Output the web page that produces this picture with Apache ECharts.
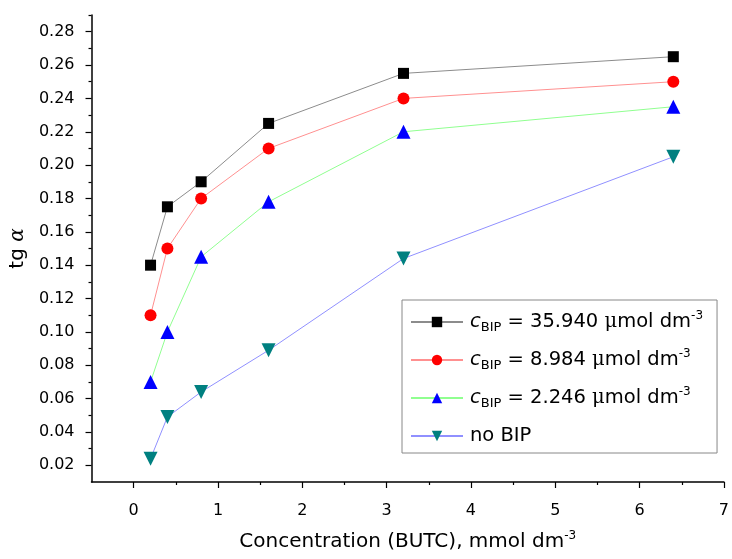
<!DOCTYPE html>
<html>
<head>
<meta charset="utf-8">
<script src="https://cdn.jsdelivr.net/npm/echarts@6/dist/echarts.min.js"></script>
<style>html,body{margin:0;padding:0;background:#fff}#c{width:732px;height:559px}</style>
</head>
<body>
<div id="c"></div>
<script>
// ---- data ----
const concentrations = [0.2, 0.4, 0.8, 1.6, 3.2, 6.4];
const bip35940 = [0.140, 0.175, 0.190, 0.225, 0.255, 0.265];
const bip8984  = [0.110, 0.150, 0.180, 0.210, 0.240, 0.250];
const bip2246  = [0.070, 0.100, 0.145, 0.178, 0.220, 0.235];
const noBip    = [0.024, 0.049, 0.064, 0.089, 0.144, 0.205];
const seriesNames = ['c35.940', 'c8.984', 'c2.246', 'noBIP'];
const legendValues = ['35.940', '8.984', '2.246', null];
const xMajorTicks = [0, 1, 2, 3, 4, 5, 6, 7];
const xMinorTicks = [0.5, 1.5, 2.5, 3.5, 4.5, 5.5, 6.5];
const yMajorTicks = [0.02, 0.04, 0.06, 0.08, 0.10, 0.12, 0.14, 0.16, 0.18, 0.20, 0.22, 0.24, 0.26, 0.28];
const yMinorTicks = [0.03, 0.05, 0.07, 0.09, 0.11, 0.13, 0.15, 0.17, 0.19, 0.21, 0.23, 0.25, 0.27, 0.29];

const pairs = ys => concentrations.map((x, i) => [x, ys[i]]);
const FONT = 'DejaVu Sans';
const downTri = 'path://M0,0 L12,0 L6,10.4 Z';

const chart = echarts.init(document.getElementById('c'), null, {renderer: 'canvas'});
const baseX = {min: -0.5, max: 7, gridIndex: 0, position: 'bottom', splitLine: {show: false}};
const baseY = {min: 0.01, max: 0.29, gridIndex: 0, position: 'left', splitLine: {show: false}};

function mkSeries(name, data, lineColor, symColor, symbol, size) {
  return {
    name, type: 'line', data, symbol, symbolSize: size,
    lineStyle: {color: lineColor, width: 1},
    itemStyle: {color: symColor, borderWidth: 0},
    emphasis: {disabled: true}, animation: false, z: 3
  };
}

chart.setOption({
  animation: false,
  grid: {left: 87, right: 8, top: 15, bottom: 76, containLabel: false},
  xAxis: [
    Object.assign({}, baseX, {
      type: 'value',
      axisLine: {show: true, onZero: false, lineStyle: {color: '#000', width: 1.5}},
      axisTick: {show: true, inside: false, length: 6, lineStyle: {color: '#000', width: 1.2}, customValues: xMajorTicks},
      axisLabel: {customValues: xMajorTicks, color: '#000', fontFamily: FONT, fontSize: 16, margin: 21},
      name: 'Concentration (BUTC), mmol dm{sup|-3}',
      nameLocation: 'middle', nameGap: 48,
      nameTextStyle: {color: '#000', fontFamily: FONT, fontSize: 20, lineHeight: 24,
        rich: {sup: {fontFamily: FONT, fontSize: 12, lineHeight: 12, verticalAlign: 'top', color: '#000'}}}
    }),
    Object.assign({}, baseX, {
      type: 'value',
      axisLine: {show: false, onZero: false},
      axisTick: {show: true, inside: false, length: 3, lineStyle: {color: '#000', width: 1.2}, customValues: xMinorTicks},
      axisLabel: {show: false}
    })
  ],
  yAxis: [
    Object.assign({}, baseY, {
      type: 'value',
      axisLine: {show: true, onZero: false, lineStyle: {color: '#000', width: 1.5}},
      axisTick: {show: true, inside: false, length: 6, lineStyle: {color: '#000', width: 1.2}, customValues: yMajorTicks},
      axisLabel: {customValues: yMajorTicks, color: '#000', fontFamily: FONT, fontSize: 16, margin: 17,
        formatter: v => v.toFixed(2)},
      name: 'tg {a|α}',
      nameLocation: 'middle', nameGap: 62, nameRotate: 90,
      nameTextStyle: {color: '#000', fontFamily: FONT, fontSize: 20,
        rich: {a: {fontFamily: 'DejaVu Serif', fontStyle: 'italic', fontSize: 20, color: '#000'}}}
    }),
    Object.assign({}, baseY, {
      type: 'value',
      axisLine: {show: false, onZero: false},
      axisTick: {show: true, inside: false, length: 3, lineStyle: {color: '#000', width: 1.2}, customValues: yMinorTicks},
      axisLabel: {show: false}
    })
  ],
  legend: {
    orient: 'vertical', left: 402, top: 300,
    padding: [10, 14, 5, 8],
    itemWidth: 52, itemHeight: 13, itemGap: 14,
    borderColor: '#888', borderWidth: 1, backgroundColor: '#fff',
    data: seriesNames,
    formatter: function (name) {
      const v = legendValues[seriesNames.indexOf(name)];
      if (v === null) return 'no BIP';
      return '{i|c}{sub|BIP} = ' + v + ' {mu|μ}mol dm{sup|-3}';
    },
    textStyle: {
      color: '#000', fontFamily: FONT, fontSize: 19.5, lineHeight: 24, padding: [0, 0, 0, 2],
      rich: {
        i: {fontFamily: FONT, fontStyle: 'italic', fontSize: 19.5, lineHeight: 24, color: '#000'},
        sub: {fontFamily: FONT, fontSize: 13, lineHeight: 12, verticalAlign: 'bottom', color: '#000'},
        sup: {fontFamily: FONT, fontSize: 12, lineHeight: 12, verticalAlign: 'top', color: '#000'},
        mu: {fontFamily: 'DejaVu Serif', fontSize: 19.5, lineHeight: 24, color: '#000'}
      }
    }
  },
  series: [
    mkSeries(seriesNames[0], pairs(bip35940), '#8c8c8c', '#000000', 'rect', 11),
    mkSeries(seriesNames[1], pairs(bip8984), '#ff9090', '#ff0000', 'circle', 12),
    mkSeries(seriesNames[2], pairs(bip2246), '#90ff90', '#0000ff', 'triangle', 14),
    mkSeries(seriesNames[3], pairs(noBip), '#9090ff', '#008080', downTri, 14)
  ]
});
</script>
</body>
</html>
